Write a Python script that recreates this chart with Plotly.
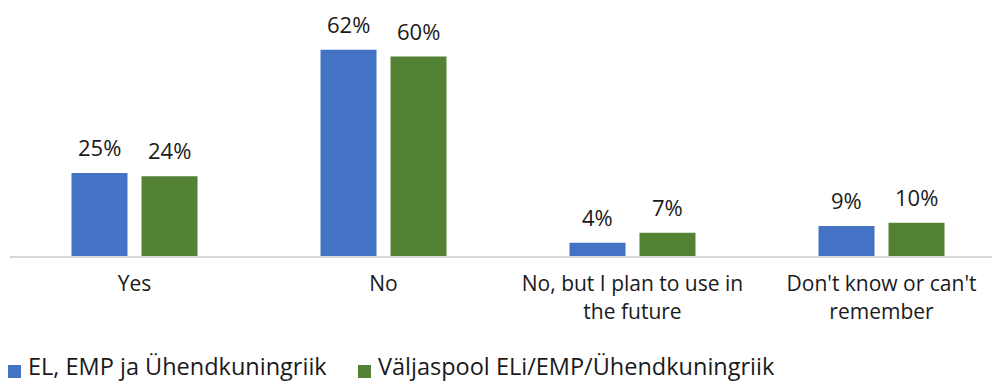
import plotly.graph_objects as go

categories = ["Yes", "No", "No, but I plan to use in<br>the future", "Don't know or can't<br>remember"]
series_names = ["EL, EMP ja Ühendkuningriik", "Väljaspool ELi/EMP/Ühendkuningriik"]
eu_values = [25, 62, 4, 9]
non_eu_values = [24, 60, 7, 10]
colors = ["#4472C4", "#548235"]

FONT = "Open Sans"
TEXT = "#1a1a1a"
W, H = 992, 383
L, B = 10, 127
PLOT_W, PLOT_H = W - L, H - B
STEP = 249  # pixels per category
x_pos = list(range(len(categories)))
offset = 35 / STEP  # half the distance between paired bar centres


def px_x(px):
    return (px - L) / PLOT_W


def px_y(py):
    return (PLOT_H - py) / PLOT_H


fig = go.Figure()
for name, vals, col in zip(series_names, [eu_values, non_eu_values], colors):
    fig.add_trace(go.Bar(
        x=x_pos, y=vals, name=name, marker=dict(color=col, line=dict(width=0)),
        hoverinfo="skip", showlegend=False,
    ))

# value labels above each bar
for sign, vals in zip([-1, 1], [eu_values, non_eu_values]):
    for xi, v in zip(x_pos, vals):
        fig.add_annotation(
            x=xi + sign * offset, y=v, text=f"{v}%", showarrow=False,
            yanchor="bottom", yshift=9, font=dict(size=22, color=TEXT, family=FONT),
        )

# legend drawn below the plot: coloured square followed by the series name
legend_x = [8, 358]
for lx, name, col in zip(legend_x, series_names, colors):
    fig.add_shape(
        type="rect", xref="paper", yref="paper",
        x0=px_x(lx), x1=px_x(lx + 13), y0=px_y(365), y1=px_y(378),
        fillcolor=col, line=dict(width=0),
    )
    fig.add_annotation(
        x=px_x(lx + 18), y=px_y(366), xref="paper", yref="paper",
        text=name, showarrow=False, xanchor="left", yanchor="middle",
        font=dict(size=23.5, family=FONT, color=TEXT),
    )

fig.update_layout(
    width=W, height=H,
    margin=dict(l=L, r=0, t=0, b=B),
    paper_bgcolor="white", plot_bgcolor="white",
    barmode="group", bargap=1 - 140 / STEP, bargroupgap=0.2,
    font=dict(family=FONT, color=TEXT),
    showlegend=False,
    xaxis=dict(
        range=[-0.5, -0.5 + PLOT_W / STEP],
        tickmode="array", tickvals=x_pos, ticktext=categories,
        tickfont=dict(size=21, family=FONT, color=TEXT),
        showline=True, linecolor="#D9D9D9", linewidth=2,
        showgrid=False, zeroline=False, ticks="", ticklabelstandoff=8,
        automargin=False,
    ),
    yaxis=dict(range=[0, 77], visible=False),
)

fig.write_html("out.html")
